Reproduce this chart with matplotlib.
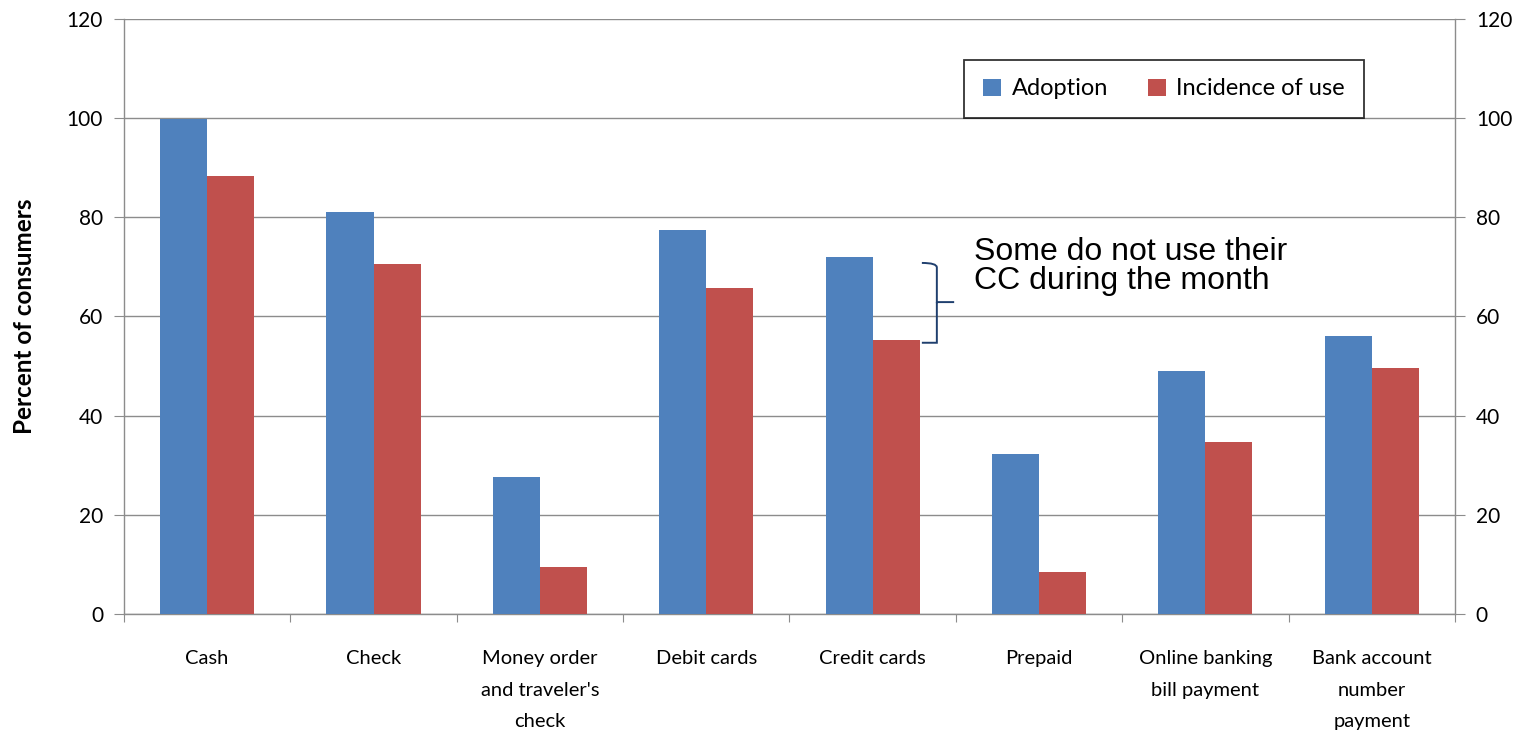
import matplotlib
matplotlib.use("Agg")
import matplotlib.pyplot as plt
import numpy as np
from matplotlib.path import Path
from matplotlib.patches import PathPatch

categories = ["Cash", "Check", "Money order\nand traveler's\ncheck", "Debit cards",
              "Credit cards", "Prepaid", "Online banking\nbill payment",
              "Bank account\nnumber\npayment"]
adoption = [99.8, 81.0, 27.6, 77.4, 72.0, 32.3, 49.0, 56.0]
incidence = [88.3, 70.6, 9.5, 65.7, 55.3, 8.5, 34.6, 49.7]
y_ticks = [0, 20, 40, 60, 80, 100, 120]

BLUE = "#4F81BD"
RED = "#C0504D"
GRID = "#8C8C8C"

plt.rcParams["font.family"] = ["Lato", "DejaVu Sans"]

fig = plt.figure(figsize=(15.32, 7.36), dpi=100)
ax = fig.add_axes([0.0809, 0.1658, 0.8688, 0.8084])

x = np.arange(len(categories)) + 0.5
w = 0.283
ax.bar(x - w / 2, adoption, width=w, color=BLUE, label="Adoption", zorder=3)
ax.bar(x + w / 2, incidence, width=w, color=RED, label="Incidence of use", zorder=3)

ax.set_xlim(0, len(categories))
ax.set_ylim(0, 120)
ax.set_yticks(y_ticks)
ax.yaxis.grid(True, color=GRID, linewidth=1.0, zorder=0)
ax.set_axisbelow(True)

ax.spines["top"].set_visible(False)
for side in ["left", "bottom", "right"]:
    ax.spines[side].set_color(GRID)
    ax.spines[side].set_linewidth(1.0)

ax.tick_params(axis="y", direction="out", length=7, color=GRID, labelsize=15,
               pad=8, right=True, labelright=True)
ax.set_xticks(np.arange(len(categories) + 1))
ax.set_xticklabels([])
ax.tick_params(axis="x", direction="out", length=6, color=GRID)
ax.set_xticks(x, minor=True)
ax.set_xticklabels(categories, minor=True, fontsize=14.5, linespacing=2.05)
ax.tick_params(axis="x", which="minor", length=0, pad=26)

ax.set_ylabel("Percent of consumers", fontsize=17.5, fontweight="bold", labelpad=22)

leg = ax.legend(loc="center", bbox_to_anchor=(0.7815, 0.8825), ncol=2, fontsize=17,
                frameon=True, fancybox=False, edgecolor="black", handlelength=0.75,
                handleheight=0.75, handletextpad=0.45, columnspacing=1.7,
                borderpad=0.8, borderaxespad=0)
leg.get_frame().set_linewidth(1.3)
leg.set_zorder(5)

# curly brace marking the gap on credit cards
xb0, xb1, xt = 4.796, 4.886, 4.99
yt, ym, yb = 70.8, 62.9, 54.7
c = 0.9
brace = Path(
    [(xb0, yt), (xb1, yt), (xb1, yt - c), (xb1, yt - 2 * c),
     (xb1, ym + c), (xb1, ym), (xt, ym),
     (xb1, ym), (xb1, ym - c), (xb1, yb + 2 * c),
     (xb1, yb + c), (xb1, yb), (xb0, yb)],
    [Path.MOVETO, Path.CURVE3, Path.CURVE3, Path.LINETO,
     Path.CURVE3, Path.CURVE3, Path.LINETO,
     Path.MOVETO, Path.CURVE3, Path.LINETO,
     Path.CURVE3, Path.CURVE3, Path.LINETO])
ax.add_patch(PathPatch(brace, facecolor="none", edgecolor="#1F3F6E", linewidth=1.4,
                       zorder=4, clip_on=False))

ax.text(5.11, 76.0, "Some do not use their\nCC during the month", fontsize=23,
        family=["Liberation Sans", "DejaVu Sans"], va="top", ha="left",
        linespacing=0.95, zorder=4)

fig.savefig("out.png", dpi=100)
